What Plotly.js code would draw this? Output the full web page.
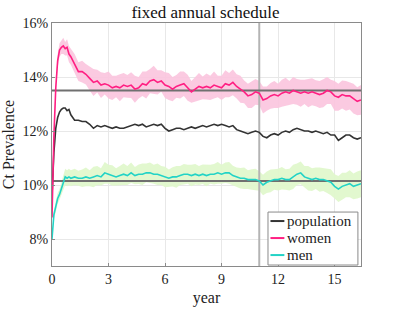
<!DOCTYPE html>
<html>
<head>
<meta charset="utf-8">
<script src="https://cdn.plot.ly/plotly-3.0.1.min.js"></script>
<style>html,body{margin:0;padding:0;background:#fff;}#chart{width:399px;height:310px;}</style>
</head>
<body>
<div id="chart"></div>
<script>
// ---- data ----
const years = [0,0.05,0.1,0.2,0.3,0.4,0.5,0.6,0.7,0.8,0.9,1.0,
  1.2,1.4,1.6,1.8,2.0,2.2,2.4,2.6,2.8,3.0,
  3.2,3.4,3.6,3.8,4.0,4.2,4.4,4.6,4.8,5.0,
  5.2,5.4,5.6,5.8,6.0,6.2,6.4,6.6,6.8,7.0,
  7.2,7.4,7.6,7.8,8.0,8.2,8.4,8.6,8.8,9.0,
  9.2,9.4,9.6,9.8,10.0,10.2,10.4,10.6,10.8,11.0,
  11.2,11.4,11.6,11.8,12.0,12.2,12.4,12.6,12.8,13.0,
  13.2,13.4,13.6,13.8,14.0,14.2,14.4,14.6,14.8,15.0,
  15.2,15.4,15.6,15.8,16.0,16.2,16.4];

const population = [9.6,10.4,11.2,12.1,12.5,12.7,12.8,12.85,12.85,12.75,12.8,12.6,
  12.4,12.4,12.35,12.35,12.25,12.1,12.2,12.15,12.2,12.15,
  12.1,12.15,12.1,12.1,12.15,12.2,12.25,12.2,12.25,12.15,
  12.2,12.25,12.2,12.25,12.1,12.0,12.05,12.1,12.1,12.05,
  12.1,12.15,12.1,12.15,12.2,12.15,12.2,12.25,12.2,12.25,
  12.2,12.15,12.2,12.05,12.0,11.95,11.9,11.95,12.0,11.95,
  11.8,11.75,11.85,11.9,11.85,11.95,12.0,11.95,12.05,12.1,
  12.05,12.0,12.0,11.95,12.0,11.95,11.9,11.95,11.85,11.85,
  11.65,11.75,11.85,11.85,11.75,11.7,11.75];

const women = [8.8,10.5,11.8,13.6,14.6,15.0,15.1,15.15,15.05,15.1,14.85,14.75,
  14.5,14.2,14.2,14.1,13.95,13.8,13.85,13.7,13.75,13.7,
  13.6,13.65,13.6,13.7,13.65,13.7,13.55,13.6,13.75,13.7,
  13.85,13.9,13.8,13.85,13.7,13.65,13.55,13.65,13.7,13.75,
  13.6,13.45,13.55,13.65,13.6,13.65,13.6,13.7,13.65,13.6,
  13.75,13.7,13.8,13.65,13.55,13.45,13.3,13.35,13.45,13.4,
  13.15,13.2,13.3,13.35,13.3,13.4,13.45,13.4,13.5,13.45,
  13.4,13.45,13.4,13.45,13.4,13.35,13.4,13.5,13.45,13.3,
  13.25,13.35,13.3,13.3,13.2,13.1,13.15];

const men = [8.0,8.6,8.9,9.2,9.5,9.65,9.9,10.1,10.3,10.25,10.3,10.25,
  10.3,10.25,10.25,10.3,10.25,10.3,10.35,10.3,10.45,10.4,
  10.35,10.3,10.35,10.4,10.35,10.45,10.35,10.4,10.4,10.45,
  10.45,10.4,10.4,10.35,10.3,10.25,10.3,10.3,10.35,10.4,
  10.4,10.35,10.4,10.35,10.4,10.35,10.4,10.4,10.45,10.4,
  10.45,10.45,10.35,10.3,10.25,10.25,10.2,10.2,10.2,10.15,
  10.0,10.1,10.15,10.2,10.2,10.25,10.2,10.2,10.3,10.4,
  10.45,10.3,10.25,10.2,10.25,10.2,10.2,10.15,10.1,9.95,
  9.85,9.95,10.0,10.05,9.95,10.0,10.05];

const womenSpread = [0.1,0.15,0.2,0.25,0.25,0.25,0.25,0.3,0.25,0.3,0.3,0.3,
  0.35,0.35,0.4,0.38,0.45,0.5,0.42,0.48,0.4,0.5,
  0.45,0.4,0.5,0.45,0.42,0.48,0.5,0.4,0.45,0.5,
  0.45,0.52,0.45,0.4,0.48,0.5,0.45,0.42,0.5,0.45,
  0.48,0.4,0.45,0.5,0.42,0.48,0.45,0.5,0.4,0.45,
  0.5,0.45,0.48,0.45,0.5,0.42,0.45,0.5,0.48,0.45,
  0.5,0.45,0.48,0.5,0.45,0.5,0.52,0.45,0.5,0.48,
  0.5,0.45,0.52,0.5,0.48,0.5,0.52,0.5,0.45,0.55,
  0.5,0.52,0.55,0.5,0.55,0.52,0.55];

const menSpread = [0.05,0.1,0.15,0.2,0.2,0.2,0.25,0.25,0.3,0.3,0.3,0.3,
  0.3,0.28,0.32,0.35,0.3,0.38,0.35,0.32,0.4,0.35,
  0.38,0.32,0.35,0.4,0.35,0.38,0.32,0.36,0.4,0.35,
  0.38,0.35,0.4,0.35,0.38,0.32,0.36,0.4,0.35,0.38,
  0.35,0.4,0.38,0.35,0.36,0.4,0.35,0.38,0.4,0.35,
  0.38,0.4,0.36,0.35,0.38,0.4,0.35,0.38,0.4,0.36,
  0.38,0.4,0.42,0.38,0.4,0.42,0.38,0.4,0.45,0.4,
  0.42,0.4,0.45,0.42,0.4,0.45,0.42,0.45,0.48,0.45,
  0.48,0.5,0.45,0.5,0.48,0.5,0.5];

const womenTarget = 13.5;
const menTarget = 10.15;
const scheduleChangeYear = 11;
const yTicks = [8,10,12,14,16];
const xTicks = [0,3,6,9,12,15];
const seriesNames = ['population', 'women', 'men'];

// ---- styling ----
const FONT = 'Liberation Serif, serif';
const C_POP = '#333333', C_W = '#ff1f82', C_M = '#22d3c6';
const C_WB = 'rgba(251,196,222,0.9)', C_MB = 'rgba(224,248,204,0.95)';
const seriesColors = [C_POP, C_W, C_M];

const add = (a, b, s) => a.map((v, i) => v + s * b[i]);

const traces = [
  {x: years, y: add(women, womenSpread, -1), mode: 'lines', line: {width: 0}, hoverinfo: 'skip', showlegend: false},
  {x: years, y: add(women, womenSpread, 1), mode: 'lines', line: {width: 0}, fill: 'tonexty', fillcolor: C_WB, hoverinfo: 'skip', showlegend: false},
  {x: years, y: add(men, menSpread, -1), mode: 'lines', line: {width: 0}, hoverinfo: 'skip', showlegend: false},
  {x: years, y: add(men, menSpread, 1), mode: 'lines', line: {width: 0}, fill: 'tonexty', fillcolor: C_MB, hoverinfo: 'skip', showlegend: false},
  {x: [scheduleChangeYear, scheduleChangeYear], y: [7, 16], mode: 'lines', line: {color: '#b4b4b4', width: 2}, showlegend: false},
  {x: [0, 16.4], y: [womenTarget, womenTarget], mode: 'lines', line: {color: '#707070', width: 2}, showlegend: false},
  {x: [0, 16.4], y: [menTarget, menTarget], mode: 'lines', line: {color: '#707070', width: 2}, showlegend: false},
  {x: years, y: population, name: seriesNames[0], mode: 'lines', line: {color: C_POP, width: 1.6}, showlegend: false},
  {x: years, y: women, name: seriesNames[1], mode: 'lines', line: {color: C_W, width: 1.6}, showlegend: false},
  {x: years, y: men, name: seriesNames[2], mode: 'lines', line: {color: C_M, width: 1.6}, showlegend: false}
];

// custom legend box (paper coordinates)
const shapes = [{type: 'rect', xref: 'paper', yref: 'paper', x0: 0.699, x1: 0.990, y0: 0.004, y1: 0.222,
  fillcolor: '#fff', line: {color: '#8a8a8a', width: 1}, layer: 'above'}];
const annotations = [];
const rowY = [0.185, 0.115, 0.045];
seriesNames.forEach((n, i) => {
  shapes.push({type: 'line', xref: 'paper', yref: 'paper', x0: 0.707, x1: 0.752, y0: rowY[i], y1: rowY[i],
    line: {color: seriesColors[i], width: 2}, layer: 'above'});
  annotations.push({xref: 'paper', yref: 'paper', x: 0.755, y: rowY[i], xanchor: 'left', yanchor: 'middle',
    text: n, showarrow: false, font: {family: FONT, size: 15, color: '#222'}});
});

const layout = {
  width: 399, height: 310,
  margin: {l: 52, r: 38, t: 23, b: 44},
  paper_bgcolor: '#fff', plot_bgcolor: '#fff',
  font: {family: FONT, size: 14, color: '#222'},
  title: {text: 'fixed annual schedule', font: {family: FONT, size: 17, color: '#111'}, x: 0.515, xanchor: 'center', y: 0.962, yanchor: 'middle'},
  xaxis: {
    range: [0, 16.4], tickvals: xTicks, ticktext: xTicks.map(String),
    showgrid: true, gridcolor: '#e8e8e8', gridwidth: 1, zeroline: false,
    showline: true, linecolor: '#8a8a8a', linewidth: 1, mirror: true,
    ticks: 'inside', ticklen: 3, tickcolor: '#8a8a8a',
    tickfont: {family: FONT, size: 14, color: '#222'},
    title: {text: 'year', font: {family: FONT, size: 16, color: '#222'}, standoff: 6}
  },
  yaxis: {
    range: [7, 16], tickvals: yTicks, ticktext: yTicks.map(v => v + '%'),
    showgrid: true, gridcolor: '#e8e8e8', gridwidth: 1, zeroline: false,
    showline: true, linecolor: '#8a8a8a', linewidth: 1, mirror: true,
    ticks: 'inside', ticklen: 3, tickcolor: '#8a8a8a',
    tickfont: {family: FONT, size: 14, color: '#222'},
    title: {text: 'Ct Prevalence', font: {family: FONT, size: 16, color: '#222'}, standoff: 6}
  },
  shapes: shapes,
  annotations: annotations,
  showlegend: false
};

Plotly.newPlot('chart', traces, layout, {displayModeBar: false, staticPlot: true});
</script>
</body>
</html>
